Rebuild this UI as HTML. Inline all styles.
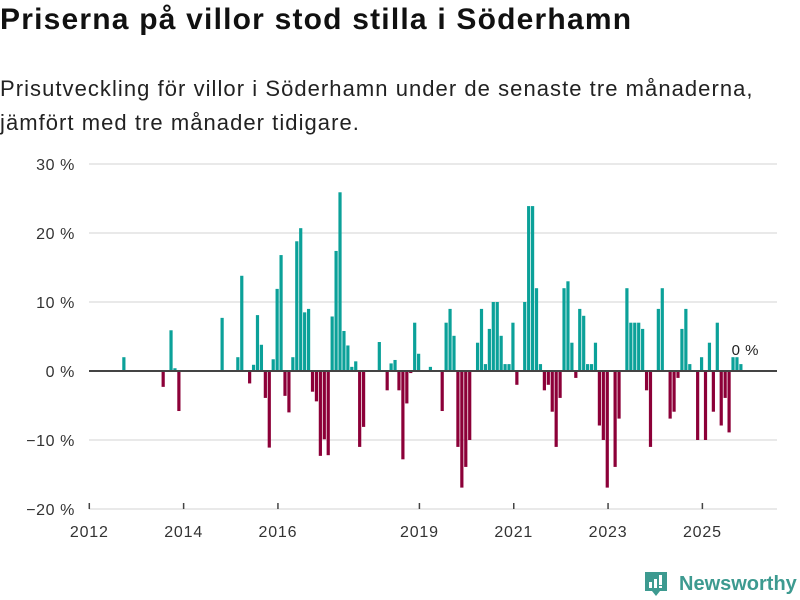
<!DOCTYPE html>
<html><head><meta charset="utf-8">
<style>
body{margin:0;width:800px;height:600px;background:#fff;font-family:"Liberation Sans",sans-serif;overflow:hidden;position:relative;color:#111}
#title{position:absolute;left:0;top:3px;font-size:30px;font-weight:bold;letter-spacing:1.2px;white-space:nowrap}
#sub{position:absolute;left:0;top:72px;font-size:22px;line-height:34px;letter-spacing:1.05px;color:#222;white-space:nowrap}
#logo{position:absolute;left:645px;top:570px}
</style></head><body>
<div id="title">Priserna på villor stod stilla i Söderhamn</div>
<div id="sub">Prisutveckling för villor i Söderhamn under de senaste tre månaderna,<br>jämfört med tre månader tidigare.</div>
<svg id="chart" width="800" height="600" style="position:absolute;left:0;top:0"></svg>
<svg id="logo" width="155" height="30">
<path d="M0 2h22v19h-7l-4 5-4-5H0z" fill="#3d9a90"/>
<rect x="4" y="12" width="3" height="6" fill="#fff"/><rect x="9" y="9" width="3" height="9" fill="#fff"/><rect x="14" y="5" width="3" height="10" fill="#fff"/><rect x="14" y="16" width="3" height="2" fill="#fff"/>
<text x="34" y="20" font-size="20" font-weight="bold" fill="#3d9a90" font-family="Liberation Sans, sans-serif">Newsworthy</text>
</svg>
<script>
const months=["2012-10","2013-08","2013-10","2013-11","2013-12","2014-11","2015-03","2015-04","2015-06","2015-07","2015-08","2015-09","2015-10","2015-11","2015-12","2016-01","2016-02","2016-03","2016-04","2016-05","2016-06","2016-07","2016-08","2016-09","2016-10","2016-11","2016-12","2017-01","2017-02","2017-03","2017-04","2017-05","2017-06","2017-07","2017-08","2017-09","2017-10","2017-11","2018-03","2018-05","2018-06","2018-07","2018-08","2018-09","2018-10","2018-11","2018-12","2019-01","2019-04","2019-07","2019-08","2019-09","2019-10","2019-11","2019-12","2020-01","2020-02","2020-04","2020-05","2020-06","2020-07","2020-08","2020-09","2020-10","2020-11","2020-12","2021-01","2021-02","2021-04","2021-05","2021-06","2021-07","2021-08","2021-09","2021-10","2021-11","2021-12","2022-01","2022-02","2022-03","2022-04","2022-05","2022-06","2022-07","2022-08","2022-09","2022-10","2022-11","2022-12","2023-01","2023-03","2023-04","2023-06","2023-07","2023-08","2023-09","2023-10","2023-11","2023-12","2024-02","2024-03","2024-05","2024-06","2024-07","2024-08","2024-09","2024-10","2024-12","2025-01","2025-02","2025-03","2025-04","2025-05","2025-06","2025-07","2025-08","2025-09","2025-10","2025-11"];
const values=[2,-2.3,5.9,0.4,-5.8,7.7,2,13.8,-1.8,0.9,8.1,3.8,-3.9,-11.1,1.7,11.9,16.8,-3.6,-6,2,18.8,20.7,8.5,9,-3,-4.4,-12.3,-9.9,-12.2,7.9,17.4,25.9,5.8,3.7,0.6,1.4,-11,-8.1,4.2,-2.8,1.1,1.6,-2.8,-12.8,-4.7,-0.3,7,2.5,0.6,-5.8,7,9,5.1,-11,-16.9,-13.9,-10,4.1,9,1,6.1,10,10,5.1,1,1,7,-2,10,23.9,23.9,12,1,-2.8,-2,-5.9,-11,-3.9,12,13,4.1,-1,9,8,1,1,4.1,-7.9,-10,-16.9,-13.9,-6.9,12,7,7,7,6.1,-2.8,-11,9,12,-6.9,-5.9,-1,6.1,9,1,-10,2,-10,4.1,-5.9,7,-7.9,-3.9,-8.9,2,2,1];
const yTicks=[-20,-10,0,10,20,30];
const yTickLabels=["−20 %","−10 %","0 %","10 %","20 %","30 %"];
const xTicks=[2012,2014,2016,2019,2021,2023,2025];
const lastLabel="0 %";
const NS="http://www.w3.org/2000/svg";
const svg=document.getElementById('chart');
function y(v){return 371-v*6.9;}
function xm(yr,mo){return 89.3+((yr-2012)*12+mo)*3.93;}
function mk(t,a){const e=document.createElementNS(NS,t);for(const k in a)e.setAttribute(k,a[k]);svg.appendChild(e);return e;}
yTicks.forEach((t,i)=>{
  const g=mk('line',{x1:89,x2:777,y1:y(t),y2:y(t),stroke:'#e2e2e2','stroke-width':1.5});
  
  
  const l=mk('text',{x:75,y:y(t)+6,'text-anchor':'end','font-size':16,'letter-spacing':'0.6',fill:'#333'});
  l.textContent=yTickLabels[i];
  
  
});
xTicks.forEach(t=>{
  const xx=xm(t,0);
  const tk=mk('line',{x1:xx,x2:xx,y1:503,y2:509,stroke:'#444','stroke-width':1.5});
  
  
  const l=mk('text',{x:xx,y:537,'text-anchor':'middle','font-size':16,'letter-spacing':'0.8',fill:'#333'});
  l.textContent=t;
  
  
});
months.forEach((m,i)=>{
  const p=m.split('-');const v=values[i];
  const cx=xm(+p[0],+p[1]-1)-0.8;
  const r=mk('rect',{x:cx-1.6,width:3.2,y:Math.min(y(v),y(0)),height:Math.abs(y(v)-y(0)),fill:v>=0?'#0ba199':'#8c0038'});
  
  
});
const z=mk('line',{x1:89,x2:777,y1:y(0),y2:y(0),stroke:'#444','stroke-width':2});


const lm=months[months.length-1].split('-');
const ll=mk('text',{x:xm(+lm[0],+lm[1]-1)-10,y:y(0)-16,'font-size':15,'letter-spacing':'0.5',fill:'#222'});
ll.textContent=lastLabel;


</script>
</body></html>
